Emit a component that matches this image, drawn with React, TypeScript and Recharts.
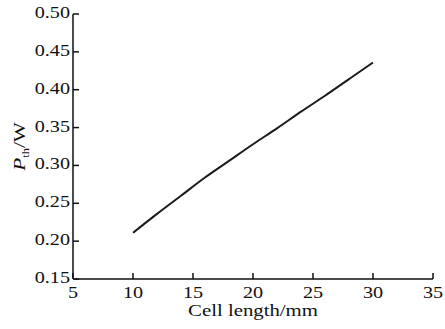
import React from "react";
import { LineChart, Line, XAxis, YAxis } from "recharts";

const cellLength = [10, 12, 14, 16, 18, 20, 22, 24, 26, 28, 30];
const pth = [0.211, 0.236, 0.26, 0.284, 0.306, 0.328, 0.349, 0.371, 0.392, 0.414, 0.436];
const xTicks = [5, 10, 15, 20, 25, 30, 35];
const yTicks = [0.15, 0.2, 0.25, 0.3, 0.35, 0.4, 0.45, 0.5];

const data = cellLength.map((x, i) => ({ x, y: pth[i] }));

const FONT = "'Liberation Serif', 'Times New Roman', serif";
const SX = 1.26;

const YTick = (props: any) => {
  const { x, y, payload } = props;
  return (
    <g>
      <line x1={x} y1={y} x2={x + 6} y2={y} stroke="#111" strokeWidth={1.5} />
      <text
        transform={`translate(${x - 3},${y + 4}) scale(${SX},1)`}
        textAnchor="end"
        fontFamily={FONT}
        fontSize={16}
        fill="#111"
      >
        {Number(payload.value).toFixed(2)}
      </text>
    </g>
  );
};

const XTick = (props: any) => {
  const { x, y, payload } = props;
  return (
    <g>
      <line x1={x} y1={y} x2={x} y2={y - 6} stroke="#111" strokeWidth={1.5} />
      <text
        transform={`translate(${x},${y + 19}) scale(${SX},1)`}
        textAnchor="middle"
        fontFamily={FONT}
        fontSize={16}
        fill="#111"
      >
        {payload.value}
      </text>
    </g>
  );
};

const XLabel = (props: any) => {
  const vb = props.viewBox || { x: 73, y: 279, width: 360, height: 50 };
  const cx = vb.x + vb.width / 2;
  return (
    <text
      transform={`translate(${cx},${vb.y + 37}) scale(1.3,1)`}
      textAnchor="middle"
      fontFamily={FONT}
      fontSize={16}
      fill="#111"
    >
      Cell length/mm
    </text>
  );
};

const YLabel = (props: any) => {
  const vb = props.viewBox || { x: 0, y: 14, width: 73, height: 265 };
  const cy = vb.y + vb.height / 2;
  return (
    <text
      transform={`translate(${vb.x + 25},${cy}) rotate(-90) scale(1.25,1)`}
      textAnchor="middle"
      fontFamily={FONT}
      fontSize={17}
      fill="#111"
    >
      <tspan fontStyle="italic">P</tspan>
      <tspan fontSize={10} dy={4}>th</tspan>
      <tspan dy={-4}>/W</tspan>
    </text>
  );
};

export default function App() {
  return (
    <div style={{ position: "absolute", left: 0, top: 0, background: "#fff" }}>
      <LineChart
        width={445}
        height={329}
        data={data}
        margin={{ top: 14, right: 12, bottom: 0, left: 0 }}
      >
        <XAxis
          dataKey="x"
          type="number"
          domain={[5, 35]}
          ticks={xTicks}
          interval={0}
          height={50}
          tickSize={0}
          tickMargin={0}
          tickLine={false}
          axisLine={{ stroke: "#111", strokeWidth: 1.5 }}
          tick={<XTick />}
          label={<XLabel />}
        />
        <YAxis
          type="number"
          domain={[0.15, 0.5]}
          ticks={yTicks}
          interval={0}
          width={73}
          tickSize={0}
          tickMargin={0}
          tickLine={false}
          axisLine={{ stroke: "#111", strokeWidth: 1.5 }}
          tick={<YTick />}
          label={<YLabel />}
        />
        <Line
          dataKey="y"
          type="monotone"
          stroke="#1a1a1a"
          strokeWidth={2}
          dot={false}
          isAnimationActive={false}
        />
      </LineChart>
    </div>
  );
}
